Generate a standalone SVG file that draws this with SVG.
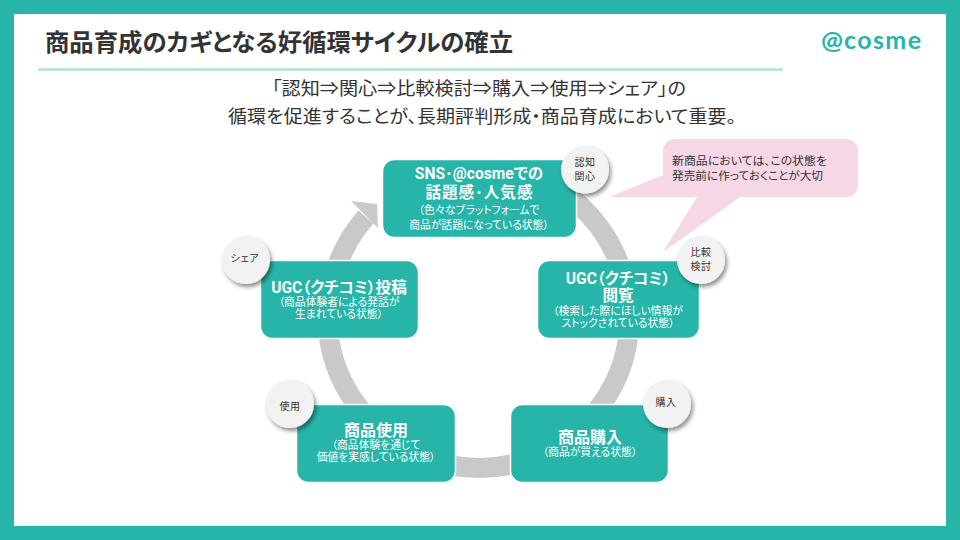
<svg xmlns="http://www.w3.org/2000/svg" width="960" height="540" viewBox="0 0 960 540">
<defs>
<filter id="sh" x="-40%" y="-40%" width="200%" height="200%"><feDropShadow dx="2" dy="3" stdDeviation="2.2" flood-color="#000" flood-opacity="0.45"/></filter>
</defs>
<style>
text{font-family:"Noto Sans CJK JP","Noto Sans",sans-serif;text-anchor:middle;font-feature-settings:"palt"}
.box{fill:#26b5a8;stroke:#fff;stroke-width:1.5}
.t{fill:#fff;font-size:15.6px;font-weight:700;font-family:Roboto,"Noto Sans CJK JP",sans-serif}
.s{fill:#fff;font-size:10.8px;font-family:Roboto,"Noto Sans CJK JP",sans-serif}
.c{fill:#f2f2f2;filter:url(#sh)}
.l{fill:#333;font-size:10px;letter-spacing:.6px}
.arc{fill:none;stroke:#c9c9c9;stroke-width:20}
.logo{fill:#26b5a8;font-family:Lato,sans-serif;font-weight:700;text-anchor:start}
</style>
<rect width="960" height="540" fill="#26b5a8"/>
<rect x="14" y="14" width="932" height="512" fill="#fff"/>
<text id="title" x="279" y="51" font-size="24" font-weight="700" fill="#333" textLength="468" lengthAdjust="spacingAndGlyphs">商品育成のカギとなる好循環サイクルの確立</text>
<text id="logo" class="logo" x="821" y="49" font-size="25"><tspan textLength="22" lengthAdjust="spacingAndGlyphs">@</tspan><tspan x="844" textLength="77" lengthAdjust="spacing">cosme</tspan></text>
<line x1="38" y1="69.5" x2="783" y2="69.5" stroke="#b5e0da" stroke-width="2.5"/>
<text x="479" y="95" font-size="18" fill="#333" textLength="414" lengthAdjust="spacingAndGlyphs">「認知⇒関心⇒比較検討⇒購入⇒使用⇒シェア」の</text>
<text x="482" y="123" font-size="18" fill="#333" textLength="508" lengthAdjust="spacingAndGlyphs">循環を促進することが、長期評判形成・商品育成において重要。</text>
<g id="connectors">
<path class="arc" d="M560 190A151 151 0 0 1 622 272"/>
<path class="arc" d="M629 330A151 151 0 0 1 594 414"/>
<path class="arc" d="M540 455A151 151 0 0 1 420 456"/>
<path class="arc" d="M365 415A151 151 0 0 1 328 330"/>
<path class="arc" d="M335 272A151 151 0 0 1 366 217"/>
<polygon points="351,201 377,204 378,228" fill="#c9c9c9"/>
</g>
<g id="callout"><path d="M675 139H846A12 12 0 0 1 858 151V185A12 12 0 0 1 846 197H740L663 252L697 197H675A12 12 0 0 1 663 185V175V151A12 12 0 0 1 675 139Z" fill="#f6d7e5"/>
<path d="M663 175L609 197H680V175Z" fill="#f6d7e5"/>
<text x="672" y="165" font-size="11" fill="#333" style="text-anchor:start" textLength="155" lengthAdjust="spacingAndGlyphs">新商品においては、この状態を</text>
<text x="672" y="180" font-size="11" fill="#333" style="text-anchor:start" textLength="151" lengthAdjust="spacingAndGlyphs">発売前に作っておくことが大切</text></g>
<g id="node-top"><rect class="box" x="382.5" y="159.5" width="194" height="78" rx="12"/>
<text class="t" x="479" y="179">SNS･@cosmeでの</text><text class="t" x="479" y="198" textLength="107" lengthAdjust="spacing">話題感･人気感</text>
<text class="s" x="479" y="214">（色々なプラットフォームで</text><text class="s" x="479" y="229">商品が話題になっている状態）</text></g>
<g id="node-right"><rect class="box" x="537.5" y="260.5" width="162" height="78" rx="12"/>
<text class="t" x="618" y="284">UGC（クチコミ）</text><text class="t" x="618" y="301">閲覧</text>
<text class="s" x="618" y="315">（検索した際にほしい情報が</text><text class="s" x="618" y="327">ストックされている状態）</text></g>
<g id="node-left"><rect class="box" x="260.5" y="260.5" width="158" height="78" rx="12"/>
<text class="t" x="339" y="293">UGC（クチコミ）投稿</text>
<text class="s" x="339" y="306">（商品体験者による発話が</text><text class="s" x="339" y="318">生まれている状態）</text></g>
<g id="node-use"><rect class="box" x="296.5" y="404.5" width="159" height="78" rx="12"/>
<text class="t" x="376" y="436" style="font-size:16px">商品使用</text>
<text class="s" x="376" y="449">（商品体験を通じて</text><text class="s" x="376" y="461">価値を実感している状態）</text></g>
<g id="node-buy"><rect class="box" x="510.5" y="404.5" width="158" height="78" rx="12"/>
<text class="t" x="590" y="443" style="font-size:16px">商品購入</text>
<text class="s" x="590" y="456">（商品が買える状態）</text></g>
<g id="b1"><circle class="c" cx="585" cy="169.5" r="24"/><text class="l"><tspan x="585" y="165.5">認知</tspan><tspan x="585" y="179.5">関心</tspan></text></g>
<g id="b2"><circle class="c" cx="701" cy="260" r="24"/><text class="l"><tspan x="701" y="256">比較</tspan><tspan x="701" y="270">検討</tspan></text></g>
<g id="b3"><circle class="c" cx="667" cy="404" r="24"/><text class="l" x="666" y="406">購入</text></g>
<g id="b4"><circle class="c" cx="290" cy="404" r="24"/><text class="l" x="290" y="410">使用</text></g>
<g id="b5"><circle class="c" cx="246" cy="260" r="24"/><text class="l" x="245" y="262">シェア</text></g>
</svg>
